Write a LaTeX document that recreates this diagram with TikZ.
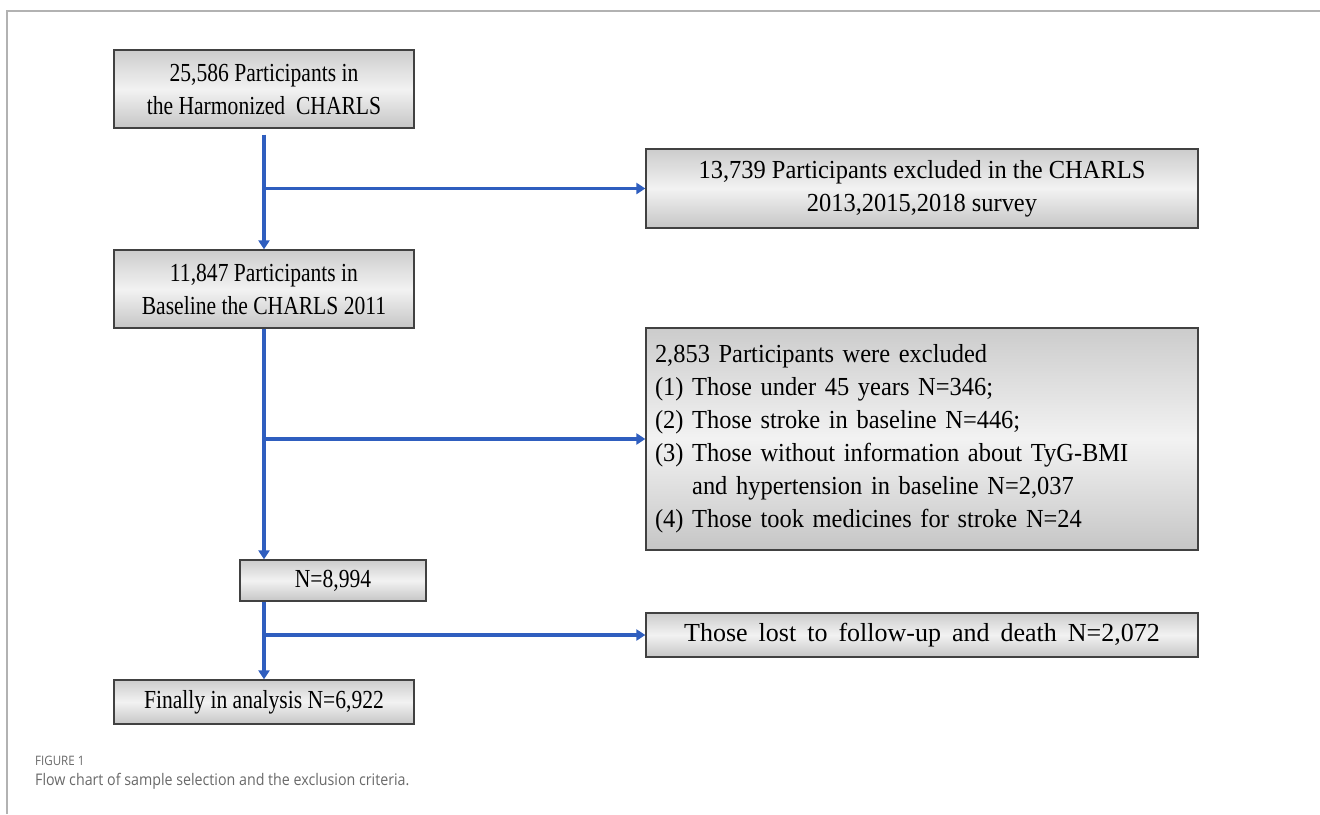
\documentclass[tikz,border=0pt]{standalone}
\usepackage{fontspec}
\setmainfont{Liberation Serif}
\newfontfamily\fsNarrow[FakeStretch=0.83]{Liberation Serif}
\newfontfamily\fsMid[FakeStretch=0.94]{Liberation Serif}
\newfontfamily\capfont[FakeStretch=0.89]{Open Sans}
\newcommand\myWideSpace{\spaceskip=11pt plus 2pt minus 2pt\relax}
\usetikzlibrary{arrows.meta,calc}
\definecolor{arrowblue}{RGB}{47,94,191}
\definecolor{boxedge}{RGB}{65,65,65}
\definecolor{capgray}{RGB}{105,105,105}
\begin{document}
\begin{tikzpicture}[x=1pt,y=-1pt,
  flowbox/.style={draw=boxedge,line width=1.3pt,rectangle,inner sep=6pt,
    top color=gray!40,bottom color=gray!45,middle color=gray!10,
    align=center},
  narrowtext/.style={font=\fsNarrow\fontsize{26}{33}\selectfont},
  midtext/.style={font=\fsMid\fontsize{26}{33}\selectfont},
  flowarrow/.style={draw=arrowblue,line width=3.2pt,-{Triangle[length=9pt,width=11pt]}}]
\useasboundingbox (0,0) rectangle (1320,814);
\fill[white] (0,0) rectangle (1320,814);
\draw[gray!60,line width=1.5pt] (7,814) -- (7,11) -- (1320,11);

\node[flowbox,narrowtext,minimum width=300pt,minimum height=78pt] (b1) at (264,89)
  {25,586 Participants in\\the Harmonized\ \ CHARLS};
\node[flowbox,midtext,minimum width=552pt,minimum height=79pt] (b2) at (922,188.5)
  {13,739 Participants excluded in the CHARLS\\2013,2015,2018 survey};
\node[flowbox,narrowtext,minimum width=300pt,minimum height=78pt] (b3) at (264,289)
  {11,847 Participants in\\Baseline the CHARLS 2011};
\node[flowbox,midtext,minimum width=552pt,minimum height=222pt,align=left,text width=534pt,inner sep=9pt] (b4) at (922,439)
  {2,853 Participants were excluded\\
   (1) Those under 45 years N=346;\\
   (2) Those stroke in baseline N=446;\\
   (3) Those without information about TyG-BMI\\
   \phantom{(3) }and hypertension in baseline N=2,037\\
   (4) Those took medicines for stroke N=24};
\node[flowbox,narrowtext,minimum width=186pt,minimum height=41pt,inner sep=2pt] (b5) at (333,580.5) {N=8,994};
\node[flowbox,minimum width=552pt,minimum height=44pt,inner sep=2pt,font=\fontsize{26}{33}\selectfont] (b6) at (922,635) {\myWideSpace Those lost to follow-up and death N=2,072};
\node[flowbox,narrowtext,minimum width=300pt,minimum height=44pt,inner sep=2pt] (b7) at (264,702) {Finally in analysis N=6,922};

\coordinate (j1) at (b1.south |- b2.west);
\coordinate (j2) at (b3.south |- b4.west);
\coordinate (t5) at (b3.south |- b5.north);
\coordinate (s5) at (b3.south |- b5.south);
\coordinate (j3) at (b3.south |- b6.west);

\draw[flowarrow,shorten <=6pt] (b1.south) -- (b3.north);
\draw[flowarrow] (j1) -- (b2.west);
\draw[flowarrow] (b3.south) -- (t5);
\draw[flowarrow] (j2) -- (b4.west);
\draw[flowarrow] (s5) -- (b7.north);
\draw[flowarrow] (j3) -- (b6.west);

\node[anchor=west,text=capgray,font=\capfont\fontsize{13}{15}\selectfont,inner sep=0pt] (cap1) at (35,761) {FIGURE 1};
\node[anchor=west,text=capgray,font=\capfont\fontsize{16}{20}\selectfont,inner sep=0pt] (cap2) at (35,781) {Flow chart of sample selection and the exclusion criteria.};
\end{tikzpicture}
\end{document}
